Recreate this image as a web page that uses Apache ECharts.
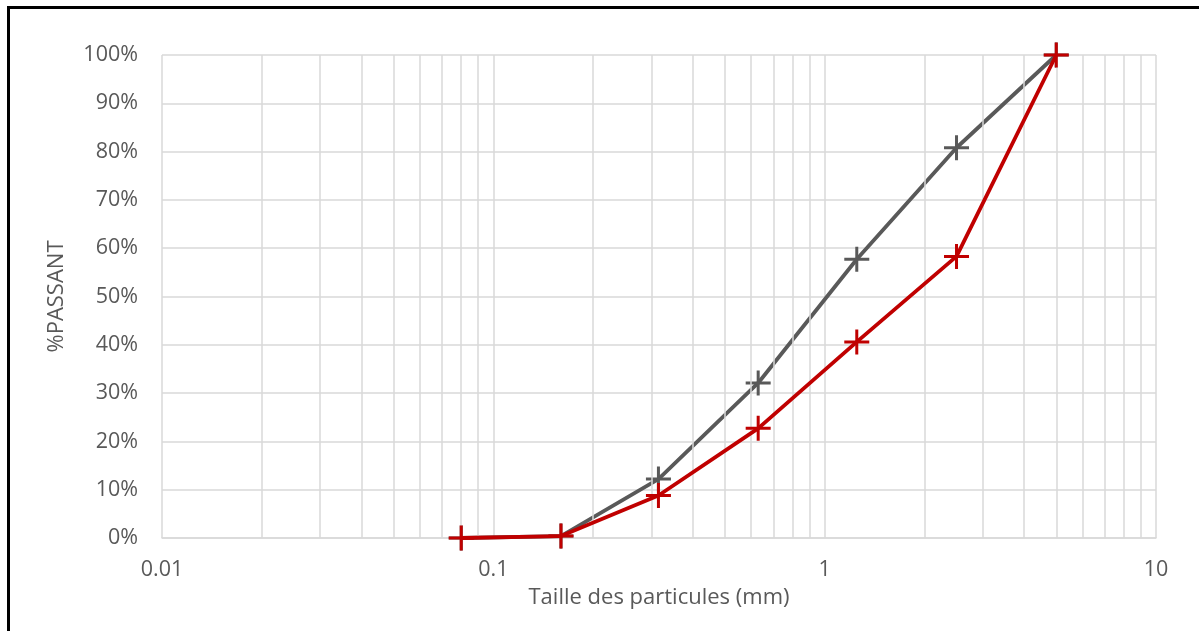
<!DOCTYPE html>
<html>
<head>
<meta charset="utf-8">
<script src="https://cdn.jsdelivr.net/npm/echarts@6/dist/echarts.min.js"></script>
<style>
html,body{margin:0;padding:0;background:#fff;}
#c{width:1199px;height:631px;}
</style>
</head>
<body>
<div id="c"></div>
<script>
// Particle sizes (mm)
var sizes = [0.08, 0.16, 0.315, 0.63, 1.25, 2.5, 5];
// % passing
var graySeries = [0, 0.4, 12.2, 32.1, 57.7, 80.8, 100];
var redSeries  = [0, 0.4, 8.8, 22.7, 40.6, 58.3, 100];
// minor vertical grid line positions (log axis)
var minorTicks = [0.02,0.03,0.04,0.05,0.06,0.07,0.08,0.09,
                  0.2,0.3,0.4,0.5,0.6,0.7,0.8,0.9,
                  2,3,4,5,6,7,8,9];
var xTickLabels = {0.01:'0.01', 0.1:'0.1', 1:'1', 10:'10'};

var FONT = 'Open Sans';
var TXT = '#595959';
var GRID = '#d9d9d9';
var plus = 'path://M11,0 H14 V11 H25 V14 H14 V25 H11 V14 H0 V11 H11 Z';

function pairs(xs, ys){ return xs.map(function(x,i){ return [x, ys[i]]; }); }

var chart = echarts.init(document.getElementById('c'), null, {renderer:'canvas'});
chart.setOption({
  animation:false,
  backgroundColor:'#fff',
  graphic:[{
    type:'polyline', silent:true,
    shape:{points:[[8.5,640],[8.5,7.5],[1210,7.5]]},
    style:{stroke:'#000', lineWidth:3, fill:null}
  }],
  grid:{left:162, right:43, top:55, bottom:93},
  xAxis:{
    type:'log', logBase:10, min:0.01, max:10,
    name:'Taille des particules (mm)', nameLocation:'middle', nameGap:49,
    nameTextStyle:{fontFamily:FONT, fontSize:22, color:TXT},
    axisLine:{show:true, lineStyle:{color:GRID, width:1.5}},
    axisTick:{show:false},
    axisLabel:{fontFamily:FONT, fontSize:21.5, color:TXT, margin:21,
      formatter:function(v){ var k = Number(v.toPrecision(3)); return xTickLabels[k] !== undefined ? xTickLabels[k] : ''; }},
    splitLine:{show:true, lineStyle:{color:GRID, width:1.5}}
  },
  yAxis:{
    type:'value', min:0, max:100, interval:10,
    name:'%PASSANT', nameLocation:'middle', nameGap:94, nameRotate:90,
    nameTextStyle:{fontFamily:FONT, fontSize:22, color:TXT},
    axisLine:{show:false}, axisTick:{show:false},
    axisLabel:{fontFamily:FONT, fontSize:21.5, color:TXT, margin:24, formatter:'{value}%'},
    splitLine:{show:true, lineStyle:{color:GRID, width:1.5}}
  },
  series:[
    {
      type:'line', name:'grid', data:[], silent:true,
      markLine:{silent:true, symbol:'none', label:{show:false},
        lineStyle:{color:GRID, width:1.5, type:'solid'},
        data:minorTicks.map(function(v){ return {xAxis:v}; })},
      z:1
    },
    {
      type:'line', name:'A', data:pairs(sizes, graySeries),
      symbol:'none', silent:true,
      lineStyle:{color:'#595959', width:3.8}, z:3
    },
    {
      type:'scatter', name:'A markers', data:pairs(sizes, graySeries),
      symbol:plus, symbolSize:25, silent:true,
      itemStyle:{color:'#595959', opacity:1}, z:4
    },
    {
      type:'line', name:'B', data:pairs(sizes, redSeries),
      symbol:'none', silent:true,
      lineStyle:{color:'#C00000', width:3.8}, z:5
    },
    {
      type:'scatter', name:'B markers', data:pairs(sizes, redSeries),
      symbol:plus, symbolSize:25, silent:true,
      itemStyle:{color:'#C00000', opacity:1}, z:6
    }
  ]
});
</script>
</body>
</html>
